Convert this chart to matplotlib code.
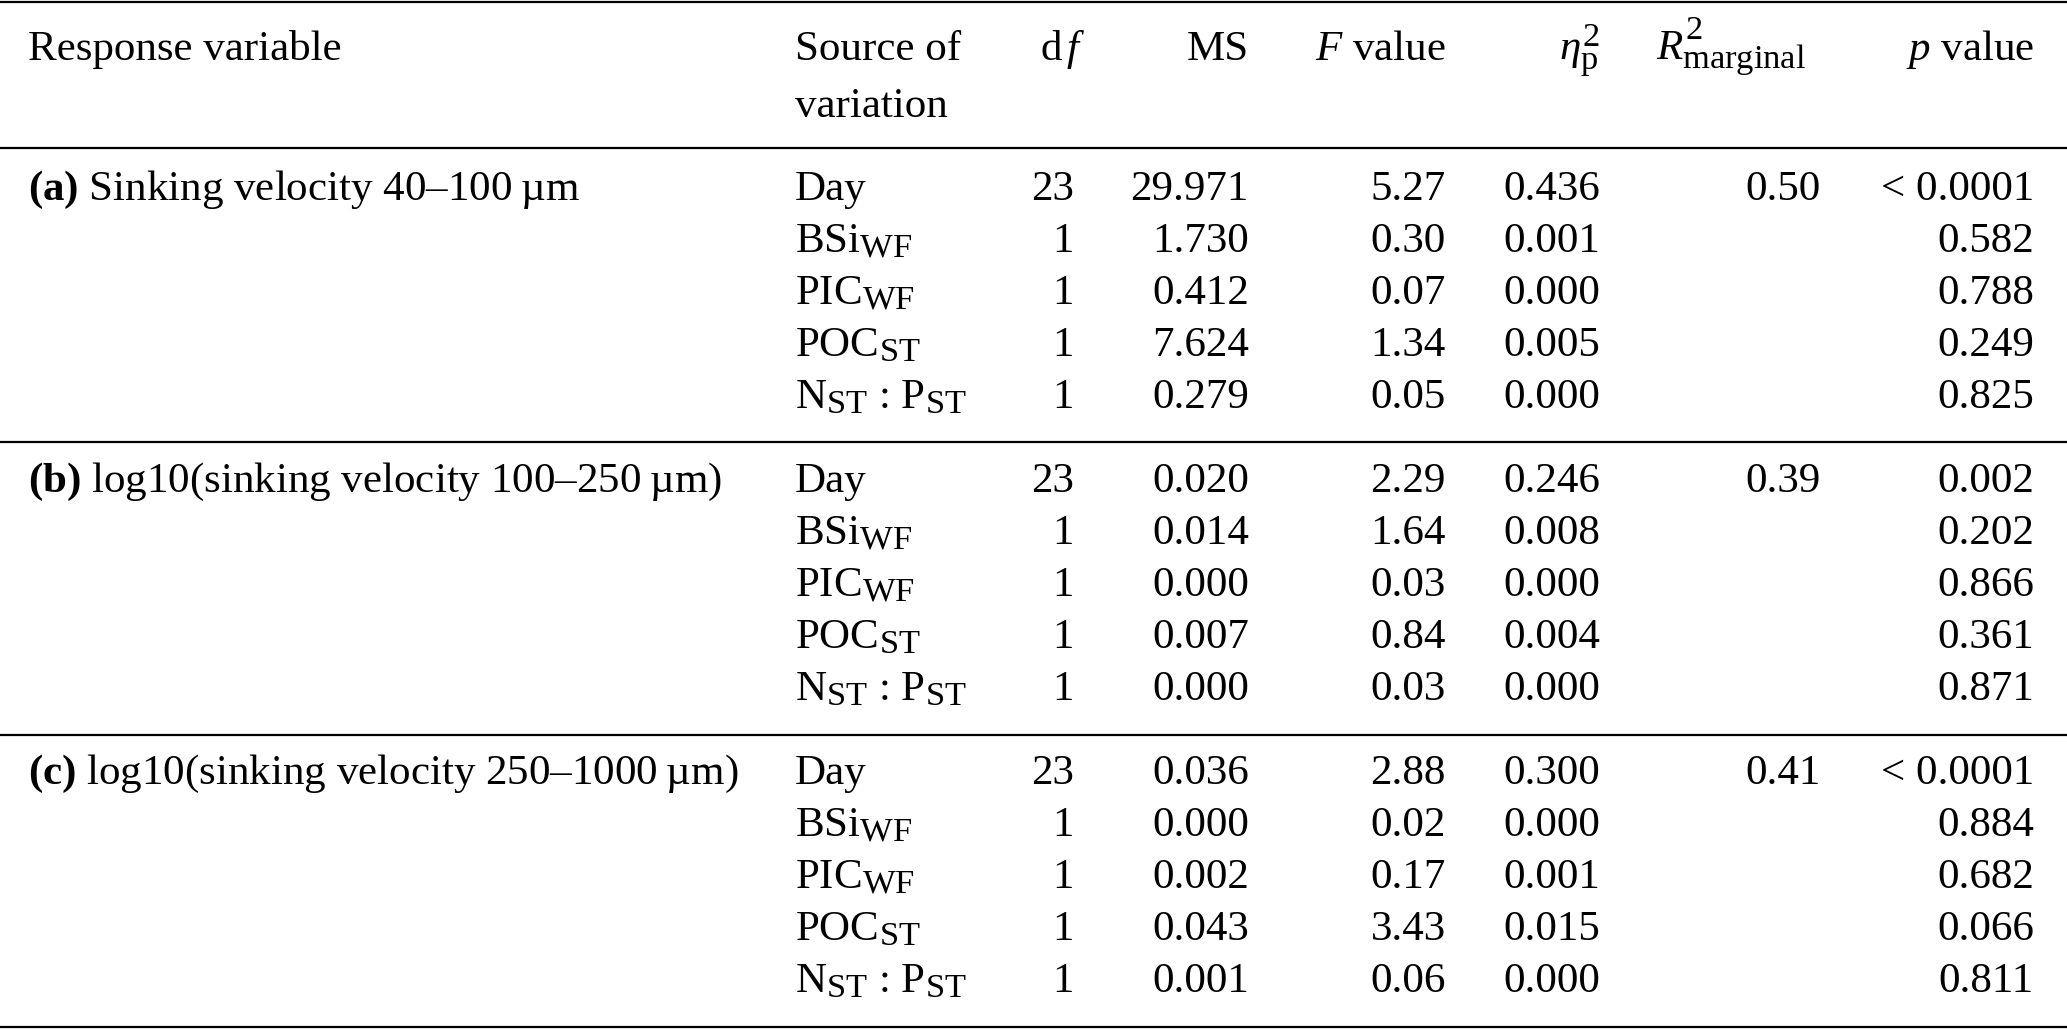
import matplotlib
matplotlib.use("Agg")
import matplotlib.pyplot as plt
import matplotlib._mathtext as mtext

plt.rcParams['font.family'] = ['Liberation Serif', 'DejaVu Serif']
plt.rcParams['mathtext.fontset'] = 'custom'
plt.rcParams['mathtext.rm'] = 'Liberation Serif'
plt.rcParams['mathtext.it'] = 'Liberation Serif:italic'
plt.rcParams['mathtext.bf'] = 'Liberation Serif:bold'
# subscripts in the original are a bit larger than mathtext's default
mtext.SHRINK_FACTOR = 0.8

# table content
responses = [r'$\mathbf{(a)}$ Sinking velocity 40–100' + '\u2009µm',
             r'$\mathbf{(b)}$ log10(sinking velocity 100–250' + '\u2009µm)',
             r'$\mathbf{(c)}$ log10(sinking velocity 250–1000' + '\u2009µm)']
sources = ['Day', r'BSi$_\mathrm{WF}$', r'PIC$_\mathrm{WF}$', r'POC$_\mathrm{ST}$',
           r'N$_\mathrm{ST}$ : P$_\mathrm{ST}$']
df_vals = [23, 1, 1, 1, 1]
ms_vals = [[29.971, 1.730, 0.412, 7.624, 0.279],
           [0.020, 0.014, 0.000, 0.007, 0.000],
           [0.036, 0.000, 0.002, 0.043, 0.001]]
f_vals = [[5.27, 0.30, 0.07, 1.34, 0.05],
          [2.29, 1.64, 0.03, 0.84, 0.03],
          [2.88, 0.02, 0.17, 3.43, 0.06]]
eta_vals = [[0.436, 0.001, 0.000, 0.005, 0.000],
            [0.246, 0.008, 0.000, 0.004, 0.000],
            [0.300, 0.000, 0.001, 0.015, 0.000]]
r2_vals = [0.50, 0.39, 0.41]
p_vals = [['< 0.0001', '0.582', '0.788', '0.249', '0.825'],
          ['0.002', '0.202', '0.866', '0.361', '0.871'],
          ['< 0.0001', '0.884', '0.682', '0.066', '0.811']]

W, H = 2067, 1030
fs = 31

fig = plt.figure(figsize=(W / 100, H / 100), dpi=100)
ax = fig.add_axes([0, 0, 1, 1])
ax.set_xlim(0, W)
ax.set_ylim(H, 0)
ax.axis('off')

# column anchors (pixels)
x_resp, x_src = 28, 795
x_df, x_ms, x_f, x_eta, x_r2, x_p = 1074, 1249, 1446, 1600, 1821, 2034

# rules
for y in [2, 148, 442, 735, 1027]:
    ax.plot([0, W], [y, y], color='black', lw=1.6, solid_capstyle='butt')

def txt(x, y, s, ha='left'):
    ax.text(x, y, s, ha=ha, va='baseline', fontsize=fs, color='black')

# header
hy1, hy2 = 60, 117
txt(x_resp, hy1, 'Response variable')
txt(x_src, hy1, 'Source of')
txt(x_src, hy2, 'variation')
txt(x_df + 12, hy1, r'd$\,f$', ha='right')
txt(x_ms, hy1, 'MS', ha='right')
txt(x_f, hy1, r'$F$ value', ha='right')
txt(x_eta, hy1, r'$\eta^2_\mathrm{p}$', ha='right')
txt(1656, hy1, r'$R^2_\mathrm{marginal}$')
txt(x_p, hy1, r'$p$ value', ha='right')

# body
row_h = 52
block_h = 292
for b in range(3):
    y0 = 200 + b * block_h
    txt(x_resp, y0, responses[b])
    txt(x_r2, y0, f'{r2_vals[b]:.2f}', ha='right')
    for i in range(5):
        y = y0 + i * row_h
        txt(x_src, y, sources[i])
        txt(x_df, y, str(df_vals[i]), ha='right')
        txt(x_ms, y, f'{ms_vals[b][i]:.3f}', ha='right')
        txt(x_f, y, f'{f_vals[b][i]:.2f}', ha='right')
        txt(x_eta, y, f'{eta_vals[b][i]:.3f}', ha='right')
        txt(x_p, y, p_vals[b][i], ha='right')

fig.savefig('out.png', dpi=100)
